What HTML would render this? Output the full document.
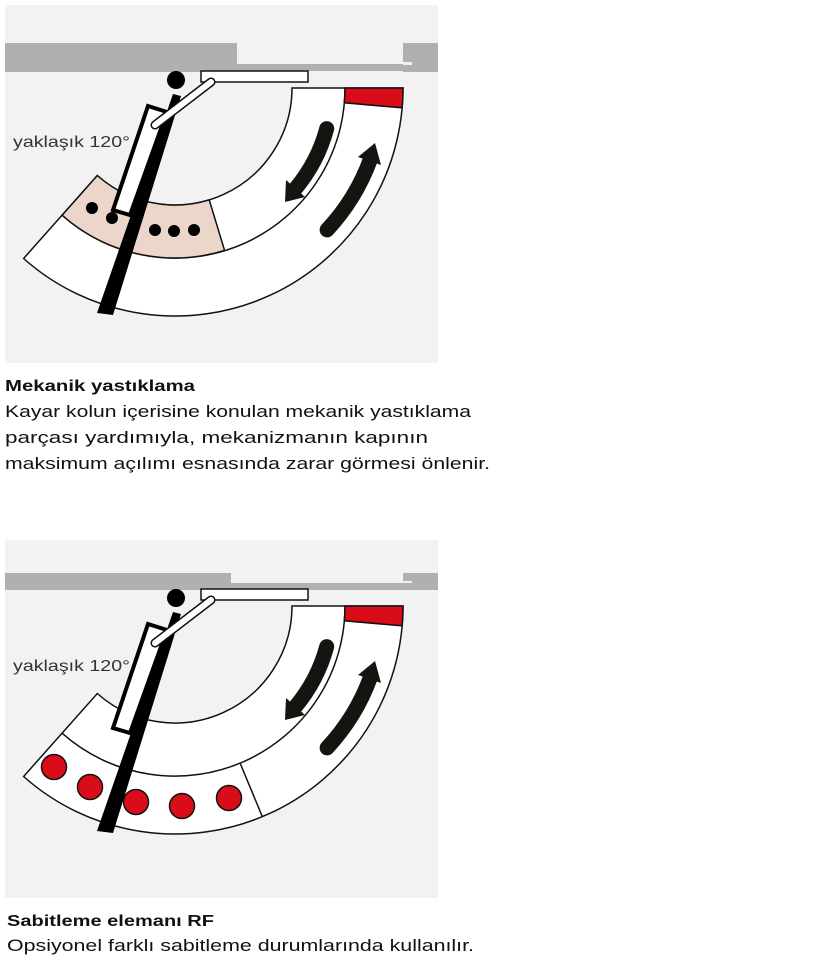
<!DOCTYPE html>
<html><head><meta charset="utf-8"><style>
html,body{margin:0;padding:0;background:#fff;}
svg{display:block;}
text{font-family:"Liberation Sans",sans-serif;}
</style></head><body>
<svg width="834" height="961" viewBox="0 0 834 961" xmlns="http://www.w3.org/2000/svg">
<defs>
<g id="mech">
  <path d="M403 88 A228 228 0 0 1 23.6 258.5 L97.3 175.5 A117 117 0 0 0 292 88 Z" fill="#fff" stroke="#111" stroke-width="1.5"/>
  <path d="M345 88 A170 170 0 0 1 62.1 215.2" fill="none" stroke="#111" stroke-width="1.5"/>
  <path d="M345 88 L403 88 A228 228 0 0 1 402.1 107.8 L344.3 102.8 A170 170 0 0 0 345 88 Z" fill="#d90d19" stroke="#111" stroke-width="1.5"/>
  <path d="M326.7 128.6 A157 157 0 0 1 295.3 188.9" fill="none" stroke="#141410" stroke-width="15" stroke-linecap="round"/>
  <polygon points="305,197 285,202 286,180" fill="#141410"/>
  <path d="M327.1 229.9 A208 208 0 0 0 370.5 159.1" fill="none" stroke="#141410" stroke-width="15" stroke-linecap="round"/>
  <polygon points="381,165 375,143 358,157" fill="#141410"/>
</g>
<g id="arm">
  <rect x="201" y="71" width="107" height="11" fill="#fff" stroke="#111" stroke-width="1.5"/>
  <circle cx="176" cy="80" r="9" fill="#000"/>
  <polygon points="148,106 167,112 130,215 113,210" fill="#fff" stroke="#000" stroke-width="4" stroke-linejoin="miter"/>
  <polygon points="173,94 181,96 113,315 97,313" fill="#000"/>
  <line x1="211" y1="82" x2="155" y2="125" stroke="#111" stroke-width="9" stroke-linecap="round"/>
  <line x1="211" y1="82" x2="155" y2="125" stroke="#fff" stroke-width="6" stroke-linecap="round"/>
</g>
</defs>

<rect x="5" y="5" width="433" height="358" fill="#f2f2f2"/>
<rect x="5" y="43" width="232" height="29" fill="#b0b0b0"/>
<rect x="228" y="64" width="184" height="7" fill="#b0b0b0"/>
<rect x="403" y="43" width="35" height="29" fill="#b0b0b0"/>
<rect x="403" y="62" width="9" height="3" fill="#f2f2f2"/>
<use href="#mech"/>
<path d="M209.2 199.9 L224.6 250.5 A170 170 0 0 1 62.1 215.2 L97.3 175.5 A117 117 0 0 0 209.2 199.9 Z" fill="#ecd5c9" stroke="#111" stroke-width="1.5"/>
<g fill="#000">
<circle cx="92" cy="208" r="6"/><circle cx="112" cy="218" r="6"/><circle cx="155" cy="230" r="6"/><circle cx="174" cy="231" r="6"/><circle cx="194" cy="230" r="6"/>
</g>
<use href="#arm"/>
<text x="13" y="147" font-size="16" fill="#333" textLength="117" lengthAdjust="spacingAndGlyphs">yaklaşık 120°</text>

<text x="5" y="391" font-size="16" font-weight="bold" fill="#111" textLength="190" lengthAdjust="spacingAndGlyphs">Mekanik yastıklama</text>
<text x="5" y="417" font-size="17" fill="#111" textLength="466" lengthAdjust="spacingAndGlyphs">Kayar kolun içerisine konulan mekanik yastıklama</text>
<text x="5" y="443" font-size="17" fill="#111" textLength="423" lengthAdjust="spacingAndGlyphs">parçası yardımıyla, mekanizmanın kapının</text>
<text x="5" y="469" font-size="17" fill="#111" textLength="485" lengthAdjust="spacingAndGlyphs">maksimum açılımı esnasında zarar görmesi önlenir.</text>

<rect x="5" y="540" width="433" height="358" fill="#f2f2f2"/>
<rect x="5" y="573" width="226" height="17" fill="#b0b0b0"/>
<rect x="222" y="583" width="190" height="7" fill="#b0b0b0"/>
<rect x="403" y="573" width="35" height="17" fill="#b0b0b0"/>
<rect x="403" y="581" width="9" height="2" fill="#f2f2f2"/>
<g transform="translate(0,518)">
  <use href="#mech"/>
  <path d="M240.1 245.1 L262.3 298.6" stroke="#111" stroke-width="1.5"/>
  <g fill="#d90d19" stroke="#111" stroke-width="1.5">
  <circle cx="54" cy="249" r="12.5"/><circle cx="90" cy="269" r="12.5"/><circle cx="136" cy="284" r="12.5"/><circle cx="182" cy="288" r="12.5"/><circle cx="229" cy="280" r="12.5"/>
  </g>
  <use href="#arm"/>
  <text x="13" y="153" font-size="16" fill="#333" textLength="117" lengthAdjust="spacingAndGlyphs">yaklaşık 120°</text>
</g>

<text x="7" y="926" font-size="16" font-weight="bold" fill="#111" textLength="207" lengthAdjust="spacingAndGlyphs">Sabitleme elemanı RF</text>
<text x="7" y="951" font-size="17" fill="#111" textLength="467" lengthAdjust="spacingAndGlyphs">Opsiyonel farklı sabitleme durumlarında kullanılır.</text>
</svg>
</body></html>
